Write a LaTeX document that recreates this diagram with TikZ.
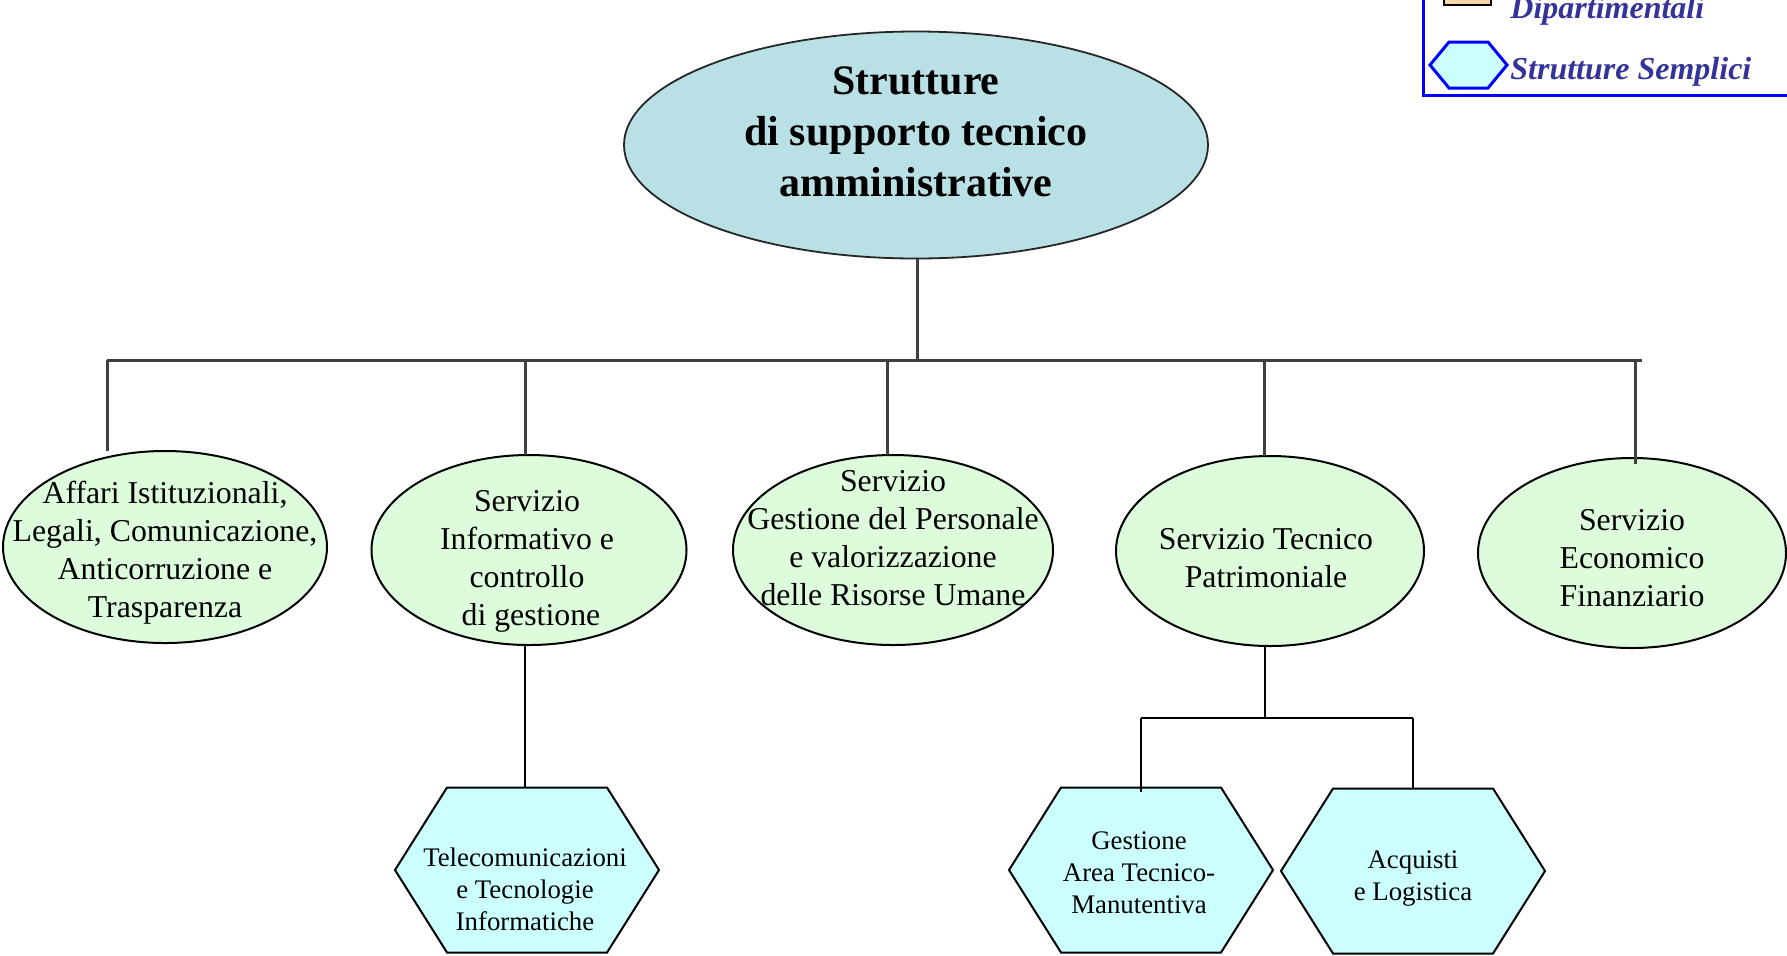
\documentclass[tikz,border=0pt]{standalone}
\usepackage{fontspec}
\setmainfont{Liberation Serif}
\usetikzlibrary{shapes.geometric,calc,backgrounds}

\definecolor{rootfill}{RGB}{185,224,229}
\definecolor{unitfill}{RGB}{221,252,220}
\definecolor{simplefill}{RGB}{204,255,255}
\definecolor{deptfill}{RGB}{250,215,170}
\definecolor{legendtext}{RGB}{51,51,153}
\definecolor{busgray}{RGB}{64,64,64}

\tikzset{
  rootell/.style={ellipse, draw=black!85, line width=0.9pt, fill=rootfill,
    inner sep=0pt, outer sep=0pt, minimum width=292pt, minimum height=113.5pt},
  unitell/.style={ellipse, draw=black, line width=1pt, fill=unitfill,
    inner sep=0pt, outer sep=0pt, minimum height=95pt},
  roottxt/.style={align=center, inner sep=0pt,
    font=\fontsize{21pt}{25.5pt}\selectfont\bfseries},
  unittxt/.style={align=center, inner sep=0pt,
    font=\fontsize{15.9pt}{19pt}\selectfont},
  hexbox/.style={rectangle, inner sep=0pt, outer sep=0pt,
    minimum width=80pt, minimum height=82.5pt},
  hexpath/.style={draw=black, line width=1pt, fill=simplefill, line join=miter},
  hextxt/.style={align=center, inner sep=0pt,
    font=\fontsize{13.4pt}{16pt}\selectfont},
  busline/.style={draw=busgray, line width=1.5pt},
  lowline/.style={draw=black, line width=1pt},
  legline/.style={draw=blue, line width=1.5pt},
  legtxt/.style={anchor=base west, inner sep=0pt, text=legendtext,
    font=\fontsize{16pt}{19pt}\selectfont\bfseries\itshape},
}

% hexagon around a rectangular core node: pointed ends stick out by #2
\newcommand{\hexaround}[2]{%
  \path[hexpath] (#1.north west) -- (#1.north east) -- ($(#1.east)+(#2,0)$)
    -- (#1.south east) -- (#1.south west) -- ($(#1.west)+(-#2,0)$) -- cycle;}

\begin{document}
\begin{tikzpicture}[x=0.5pt,y=-0.5pt]
\useasboundingbox (0,0) rectangle (1787,955);
\clip (0,0) rectangle (1787,955);

% ---- root
\node[rootell] (root) at (916,145) {};
\node[roottxt] (roott) at (916,132) {Strutture\\di supporto tecnico\\amministrative};

% ---- services
\node[unitell, minimum width=162pt, minimum height=96pt] (e1) at (165,547) {};
\node[unittxt] (e1t) at (165,553) {Affari Istituzionali,\\Legali, Comunicazione,\\Anticorruzione e\\Trasparenza};

\node[unitell, minimum width=157.5pt] (e2) at (529,550) {};
\node[unittxt] (e2t) at (527,561) {Servizio\\Informativo e\\controllo\\\ di gestione};

\node[unitell, minimum width=160pt] (e3) at (893,550) {};
\node[unittxt] (e3t) at (893,538) {Servizio\\Gestione del Personale\\e valorizzazione\\delle Risorse Umane};

\node[unitell, minimum width=154pt] (e4) at (1270,551) {};
\node[unittxt] (e4t) at (1266,558) {Servizio Tecnico\\Patrimoniale};

\node[unitell, minimum width=154pt] (e5) at (1632,553) {};
\node[unittxt] (e5t) at (1632,558) {Servizio\\Economico\\Finanziario};

% ---- simple structures
\node[hexbox] (h1) at (527,870) {};
\node[hexbox] (h2) at (1141,870) {};
\node[hexbox] (h3) at (1413,871) {};
\begin{scope}[on background layer]
  \hexaround{h1}{52}
  \hexaround{h2}{52}
  \hexaround{h3}{52}
\end{scope}
\node[hextxt] (h1t) at (525,889) {Telecomunicazioni\\e Tecnologie\\Informatiche};
\node[hextxt] (h2t) at (1139,873) {Gestione\\Area Tecnico-\\Manutentiva};
\node[hextxt] (h3t) at (1413,878) {Acquisti\\e Logistica};

% ---- top-level bus
\coordinate (busL) at (107,360);
\coordinate (busR) at (1642,360);
\coordinate (d1) at (107,360);
\coordinate (d2) at (525,360);
\coordinate (d3) at (887,360);
\coordinate (d4) at (1264,360);
\coordinate (d5) at (1635,360);
\coordinate (dr) at (917,360);
\draw[busline] (root.south -| dr) -- (dr);
\draw[busline] (busL) -- (busR);
\draw[busline] (d1) -- (d1 |- e1.north);
\draw[busline] (d2) -- (d2 |- e2.north);
\draw[busline] (d3) -- (d3 |- e3.north);
\draw[busline] (d4) -- (d4 |- e4.north);
\draw[busline] (d5) -- ($(d5 |- e5.north)+(0,6)$);

% ---- lower connectors
\draw[lowline] (e2.south -| d2) -- (h1.north -| d2);
\coordinate (fork) at (1265,718);
\draw[lowline] (e4.south -| fork) -- (fork);
\draw[lowline] (fork -| h2.north) -- (fork -| h3.north);
\draw[lowline] (fork -| h2.north) -- ($(h2.north)+(0,4)$);
\draw[lowline] (fork -| h3.north) -- (h3.north);

% ---- legend
\draw[line width=1pt, fill=deptfill] (1444,-10) rectangle (1491,5);
\node[legtxt] (legDept) at (1510,18) {Dipartimentali};
\path[legline, fill=simplefill] (1449,42) -- (1488,42) -- (1507,65) -- (1488,88)
  -- (1449,88) -- (1430,65) -- cycle;
\node[legtxt] (legSimple) at (1510,79) {Strutture Semplici};
\draw[legline] (1423,-5) -- (1423,95) -- (1795,95);
\end{tikzpicture}
\end{document}
